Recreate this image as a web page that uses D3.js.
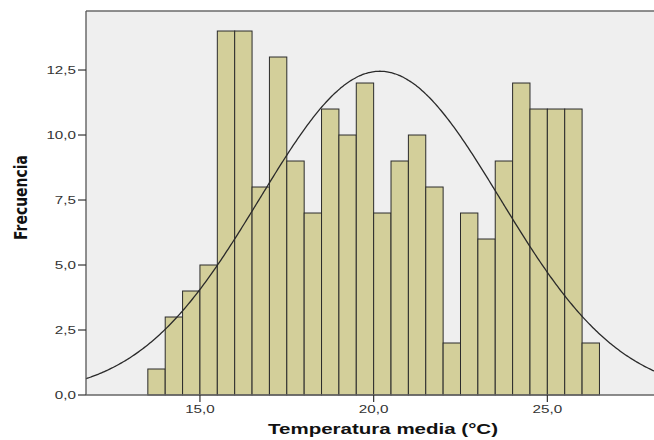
<!DOCTYPE html>
<html>
<head>
<meta charset="utf-8">
<script src="https://cdn.jsdelivr.net/npm/d3@7"></script>
<style>
  html, body { margin: 0; padding: 0; background: #ffffff; }
  svg { display: block; }
</style>
</head>
<body>
<svg id="chart" width="654" height="440"></svg>
<script>
// ---- data ----
const binStarts = [13.5,14.0,14.5,15.0,15.5,16.0,16.5,17.0,17.5,18.0,18.5,19.0,19.5,
                   20.0,20.5,21.0,21.5,22.0,22.5,23.0,23.5,24.0,24.5,25.0,25.5,26.0];
const counts    = [1,3,4,5,14,14,8,13,9,7,11,10,12,
                   7,9,10,8,2,7,6,9,12,11,11,11,2];
const binWidth = 0.5;
const xTicks = [15, 20, 25];
const xTickLabels = ["15,0", "20,0", "25,0"];
const yTicks = [0, 2.5, 5, 7.5, 10, 12.5];
const yTickLabels = ["0,0", "2,5", "5,0", "7,5", "10,0", "12,5"];
const curveMean = 20.18;
const curveSD = 3.46;
const xTitle = "Temperatura media (°C)";
const yTitle = "Frecuencia";

// ---- layout ----
const svg = d3.select("#chart");
const L = 86, R = 654, T = 11, B = 395;
const x = d3.scaleLinear().domain([11.72, 28.07]).range([L, R]);
const y = d3.scaleLinear().domain([0, 14.77]).range([B, T]);

// plot background
svg.append("rect").attr("x", L).attr("y", T).attr("width", R - L).attr("height", B - T)
   .attr("fill", "#efefef");

// bars
svg.append("g").selectAll("rect").data(counts).join("rect")
   .attr("x", (d, i) => x(binStarts[i]))
   .attr("width", (d, i) => x(binStarts[i] + binWidth) - x(binStarts[i]))
   .attr("y", d => y(d))
   .attr("height", d => y(0) - y(d))
   .attr("fill", "#d3cf9a")
   .attr("stroke", "#2b2b2b")
   .attr("stroke-width", 1);

// normal curve
const N = d3.sum(counts);
const peak = N * binWidth / (curveSD * Math.sqrt(2 * Math.PI));
const xs = d3.range(0, 401).map(i => x.domain()[0] + (x.domain()[1] - x.domain()[0]) * i / 400);
const line = d3.line()
   .x(v => x(v))
   .y(v => y(peak * Math.exp(-0.5 * Math.pow((v - curveMean) / curveSD, 2))))
   .curve(d3.curveBasis);
svg.append("path").datum(xs).attr("d", line)
   .attr("fill", "none").attr("stroke", "#2a2a2a").attr("stroke-width", 1.3);

// frame
svg.append("line").attr("x1", L).attr("x2", R).attr("y1", T).attr("y2", T)
   .attr("stroke", "#6a6a6a").attr("stroke-width", 1.5);
svg.append("line").attr("x1", L).attr("x2", L).attr("y1", T).attr("y2", B)
   .attr("stroke", "#555").attr("stroke-width", 1.3);
svg.append("line").attr("x1", L).attr("x2", R).attr("y1", B).attr("y2", B)
   .attr("stroke", "#666").attr("stroke-width", 1.3);

// y axis ticks
const yAxis = svg.append("g");
yTicks.forEach((t, i) => {
  yAxis.append("line").attr("x1", L - 8).attr("x2", L).attr("y1", y(t)).attr("y2", y(t))
    .attr("stroke", "#333").attr("stroke-width", 1.2);
  yAxis.append("text")
    .attr("transform", `translate(${L - 10},${y(t) + 4}) scale(1.45,1)`)
    .attr("text-anchor", "end")
    .attr("font-family", "Liberation Sans, Arial, sans-serif")
    .attr("font-size", 10.5)
    .attr("fill", "#333")
    .text(yTickLabels[i]);
});

// x axis ticks
const xAxis = svg.append("g");
xTicks.forEach((t, i) => {
  xAxis.append("line").attr("x1", x(t)).attr("x2", x(t)).attr("y1", B).attr("y2", B + 7)
    .attr("stroke", "#333").attr("stroke-width", 1.2);
  xAxis.append("text")
    .attr("transform", `translate(${x(t)},${B + 17.5}) scale(1.45,1)`)
    .attr("text-anchor", "middle")
    .attr("font-family", "Liberation Sans, Arial, sans-serif")
    .attr("font-size", 10.5)
    .attr("fill", "#333")
    .text(xTickLabels[i]);
});

// titles
svg.append("text")
  .attr("x", 383).attr("y", 434)
  .attr("text-anchor", "middle")
  .attr("font-family", "Liberation Sans, Arial, sans-serif")
  .attr("font-weight", "bold")
  .attr("font-size", 14)
  .attr("fill", "#111")
  .attr("textLength", 230)
  .attr("lengthAdjust", "spacingAndGlyphs")
  .text(xTitle);

svg.append("text")
  .attr("transform", "translate(26.5,197.5) rotate(-90)")
  .attr("text-anchor", "middle")
  .attr("font-family", "Liberation Sans Narrow, DejaVu Sans Condensed, Arial, sans-serif")
  .attr("font-weight", "bold")
  .attr("font-size", 17)
  .attr("fill", "#111")
  .attr("textLength", 85)
  .attr("lengthAdjust", "spacingAndGlyphs")
  .text(yTitle);
</script>
</body>
</html>
